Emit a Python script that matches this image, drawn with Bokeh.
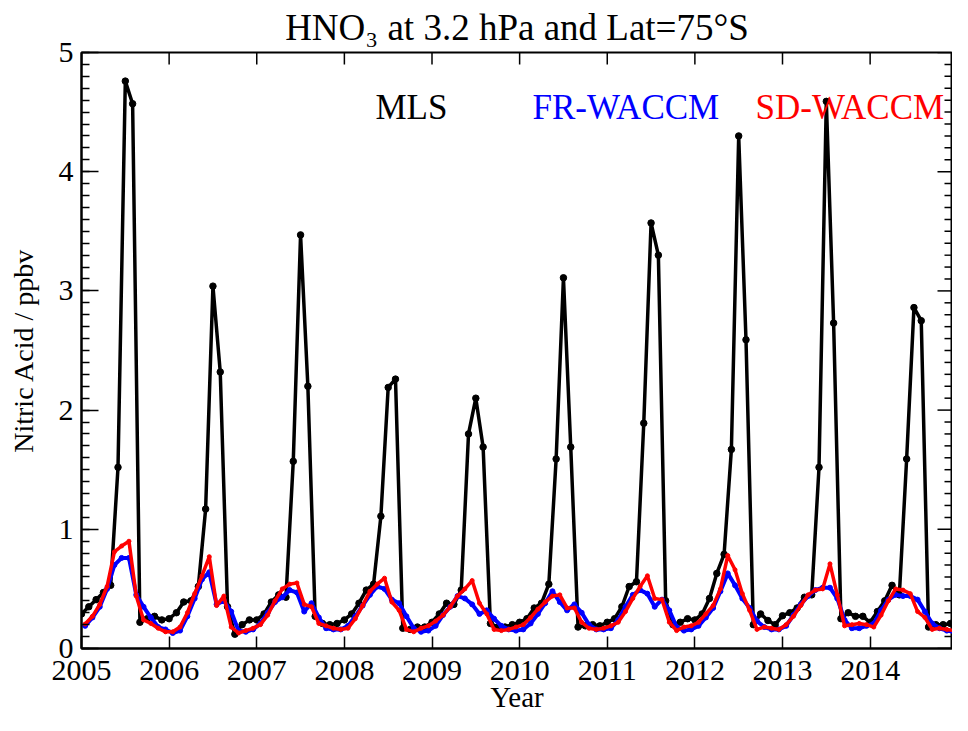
import numpy as np
from bokeh.plotting import figure
from bokeh.models import Range1d, SingleIntervalTicker, FixedTicker, Label
from bokeh.embed import file_html
from bokeh.resources import INLINE

FONT = "Liberation Serif"

# ---------------- data (monthly, Jan 2005 - Dec 2014) ----------------
years = [2005, 2006, 2007, 2008, 2009, 2010, 2011, 2012, 2013, 2014]
y_ticks = [0, 1, 2, 3, 4, 5]

mls = [
    0.29, 0.35, 0.41, 0.47, 0.53, 1.52, 4.76, 4.57, 0.22, 0.25, 0.27, 0.24,   # 2005
    0.25, 0.30, 0.39, 0.40, 0.52, 1.17, 3.04, 2.32, 0.35, 0.12, 0.20, 0.24,   # 2006
    0.24, 0.29, 0.39, 0.45, 0.43, 1.57, 3.47, 2.20, 0.27, 0.21, 0.20, 0.21,   # 2007
    0.24, 0.29, 0.38, 0.49, 0.54, 1.11, 2.19, 2.26, 0.17, 0.16, 0.18, 0.18,   # 2008
    0.22, 0.29, 0.38, 0.37, 0.49, 1.80, 2.10, 1.69, 0.21, 0.18, 0.18, 0.20,   # 2009
    0.22, 0.25, 0.34, 0.38, 0.54, 1.59, 3.11, 1.69, 0.18, 0.19, 0.20, 0.19,   # 2010
    0.22, 0.25, 0.35, 0.52, 0.56, 1.89, 3.57, 3.30, 0.40, 0.20, 0.22, 0.25,   # 2011
    0.24, 0.29, 0.42, 0.63, 0.79, 1.67, 4.30, 2.59, 0.20, 0.29, 0.235, 0.20,  # 2012
    0.275, 0.30, 0.34, 0.43, 0.45, 1.52, 4.59, 2.73, 0.25, 0.30, 0.27, 0.27,  # 2013
    0.22, 0.31, 0.40, 0.53, 0.45, 1.59, 2.86, 2.75, 0.18, 0.20, 0.20, 0.21,   # 2014
]

fr_waccm = [
    0.19, 0.26, 0.35, 0.50, 0.70, 0.76, 0.76, 0.45, 0.35, 0.26, 0.18, 0.16,
    0.13, 0.15, 0.27, 0.42, 0.58, 0.64, 0.37, 0.40, 0.31, 0.15, 0.14, 0.16,
    0.21, 0.30, 0.39, 0.43, 0.49, 0.47, 0.31, 0.38, 0.26, 0.17, 0.16, 0.16,
    0.19, 0.27, 0.36, 0.45, 0.52, 0.50, 0.41, 0.38, 0.27, 0.17, 0.14, 0.15,
    0.19, 0.28, 0.35, 0.44, 0.42, 0.37, 0.29, 0.32, 0.25, 0.19, 0.16, 0.15,
    0.16, 0.21, 0.29, 0.38, 0.48, 0.39, 0.32, 0.37, 0.30, 0.20, 0.16, 0.16,
    0.17, 0.24, 0.35, 0.45, 0.49, 0.46, 0.35, 0.41, 0.32, 0.18, 0.15, 0.16,
    0.19, 0.26, 0.34, 0.48, 0.63, 0.53, 0.42, 0.34, 0.23, 0.18, 0.16, 0.16,
    0.19, 0.28, 0.37, 0.44, 0.49, 0.51, 0.51, 0.42, 0.24, 0.17, 0.17, 0.19,
    0.21, 0.32, 0.41, 0.45, 0.44, 0.44, 0.41, 0.31, 0.21, 0.17, 0.15, 0.14,
]

sd_waccm = [
    0.205, 0.27, 0.37, 0.52, 0.81, 0.86, 0.90, 0.44, 0.24, 0.21, 0.17, 0.14,
    0.14, 0.18, 0.30, 0.46, 0.61, 0.77, 0.36, 0.44, 0.18, 0.13, 0.15, 0.17,
    0.20, 0.28, 0.40, 0.50, 0.54, 0.55, 0.37, 0.35, 0.21, 0.19, 0.17, 0.16,
    0.17, 0.25, 0.36, 0.48, 0.54, 0.59, 0.39, 0.32, 0.16, 0.14, 0.17, 0.19,
    0.23, 0.28, 0.35, 0.44, 0.50, 0.57, 0.38, 0.29, 0.16, 0.15, 0.16, 0.18,
    0.20, 0.26, 0.33, 0.39, 0.44, 0.45, 0.34, 0.34, 0.22, 0.17, 0.16, 0.17,
    0.19, 0.22, 0.31, 0.42, 0.52, 0.61, 0.42, 0.41, 0.22, 0.15, 0.18, 0.19,
    0.22, 0.29, 0.36, 0.50, 0.78, 0.66, 0.46, 0.32, 0.16, 0.18, 0.17, 0.16,
    0.20, 0.27, 0.36, 0.45, 0.49, 0.50, 0.71, 0.45, 0.19, 0.20, 0.21, 0.20,
    0.18, 0.28, 0.40, 0.50, 0.49, 0.46, 0.31, 0.26, 0.16, 0.17, 0.16, 0.15,
]

month_index = np.arange(len(mls))
t_mls = years[0] + month_index / 12.0            # MLS monthly values
t_model = years[0] + (month_index + 0.5) / 12.0  # model monthly means (mid-month)

X0, X1 = 2005.0, 2014.94
Y0, Y1 = 0.0, 5.0

W, H = 952, 715
LEFT, TOP, BOTTOM = 81, 52, 67
frame_w = W - LEFT
frame_h = H - TOP - BOTTOM

# ---------------- figure ----------------
p = figure(width=W, height=H, output_backend="svg", toolbar_location=None,
           x_range=Range1d(X0, X1), y_range=Range1d(Y0, Y1),
           min_border_left=LEFT, min_border_right=0, min_border_top=TOP,
           min_border_bottom=BOTTOM, background_fill_color="white",
           border_fill_color="white", outline_line_color="black",
           outline_line_width=2)

p.title.text = "HNO\u2083 at 3.2 hPa and Lat=75\u00b0S"
p.title.text_font = FONT
p.title.text_font_size = "37px"
p.title.text_font_style = "normal"
p.title.text_color = "black"
p.title.align = "center"
p.title.standoff = 9
p.title.offset = 9

p.xgrid.visible = False
p.ygrid.visible = False

for ax in (p.xaxis[0], p.yaxis[0]):
    ax.axis_line_width = 2
    ax.axis_line_color = "black"
    ax.major_tick_out = 0
    ax.minor_tick_out = 0
    ax.major_tick_line_width = 1.5
    ax.minor_tick_line_width = 1.5
    ax.major_tick_line_color = "black"
    ax.minor_tick_line_color = "black"
    ax.major_label_text_font = FONT
    ax.major_label_text_font_size = "30px"
    ax.major_label_text_color = "black"
    ax.axis_label_text_font = FONT
    ax.axis_label_text_font_style = "normal"
    ax.axis_label_text_color = "black"

# bottom x axis
p.xaxis.ticker = FixedTicker(ticks=years, minor_ticks=[])
p.xaxis.major_tick_in = 12
p.xaxis.minor_tick_in = 0
p.xaxis.major_label_standoff = 12
p.xaxis.axis_label = "Year"
p.xaxis.axis_label_text_font_size = "29px"
p.xaxis.axis_label_standoff = -2

# left y axis
p.yaxis.ticker = SingleIntervalTicker(interval=1, num_minor_ticks=10)
p.yaxis.major_tick_in = 17
p.yaxis.minor_tick_in = 8
p.yaxis.major_label_standoff = 8
p.yaxis.axis_label = "Nitric Acid / ppbv"
p.yaxis.axis_label_text_font_size = "28px"
p.yaxis.axis_label_standoff = 17

# mirrored ticks on the top and right frame edges (pixel lengths -> data units)
px_x = (X1 - X0) / frame_w
px_y = (Y1 - Y0) / frame_h
p.segment(x0=years, y0=[Y1] * len(years), x1=years,
          y1=[Y1 - 12 * px_y] * len(years), line_color="black", line_width=1.5)
p.segment(x0=[X1] * len(y_ticks), y0=y_ticks, x1=[X1 - 15 * px_x] * len(y_ticks),
          y1=y_ticks, line_color="black", line_width=1.5)
minor_y = [v / 10 for v in range(0, 50) if v % 10 != 0]
p.segment(x0=[X1] * len(minor_y), y0=minor_y, x1=[X1 - 8 * px_x] * len(minor_y),
          y1=minor_y, line_color="black", line_width=1.5)

# ---------------- data lines ----------------
p.line(t_mls, mls, line_color="black", line_width=3.5)
p.scatter(t_mls, mls, size=6.5, color="black")

p.line(t_model, fr_waccm, line_color="#0000ff", line_width=4)
p.scatter(t_model, fr_waccm, size=5, color="#0000ff")

p.line(t_model, sd_waccm, line_color="#ff0000", line_width=3.5)
p.scatter(t_model, sd_waccm, size=4, color="#ff0000")

# ---------------- legend texts (placed by pixel position in the frame) ----------------
legend_names = ["MLS", "FR-WACCM", "SD-WACCM"]
legend_colors = ["black", "#0000ff", "#ff0000"]
legend_px = [375, 532, 755]
legend_base_px = 107
for name, col, lx in zip(legend_names, legend_colors, legend_px):
    p.add_layout(Label(x=X0 + (lx - LEFT) * px_x,
                       y=Y1 - (legend_base_px - TOP) * px_y,
                       text=name, text_color=col,
                       text_font=FONT, text_font_size="35px",
                       text_baseline="alphabetic", text_align="left"))

open("out.html", "w").write(file_html(p, INLINE))
